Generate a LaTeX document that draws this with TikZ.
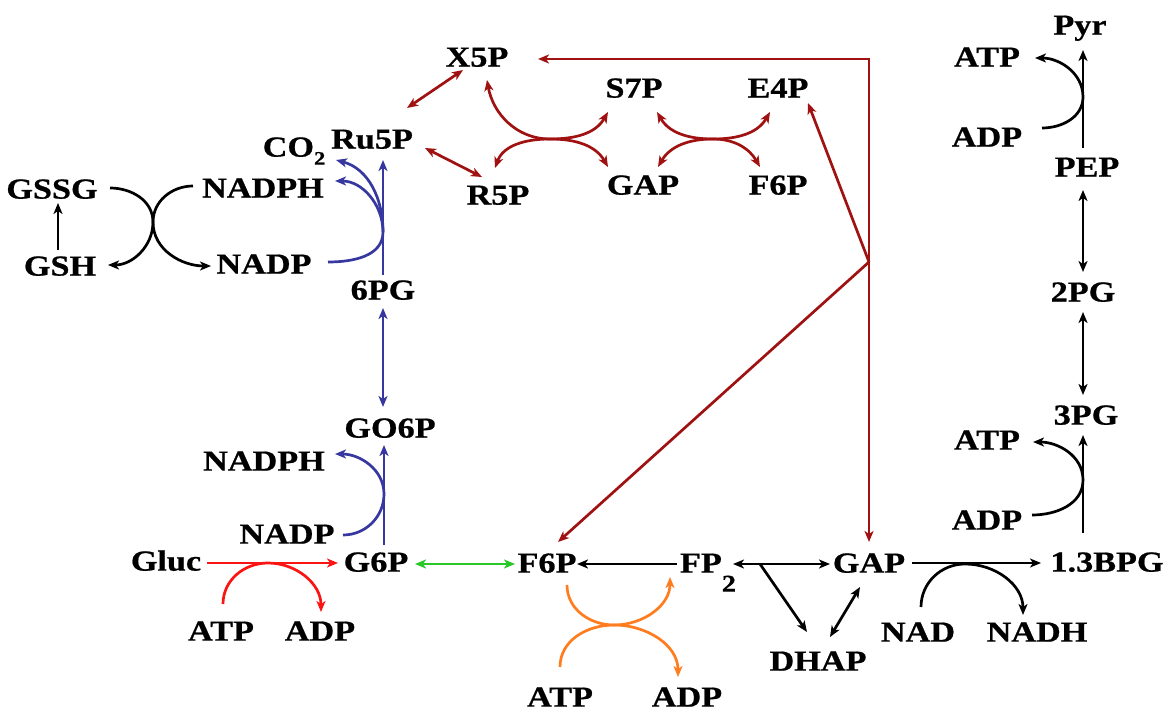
\documentclass[tikz,border=0pt]{standalone}
\usepackage{fontspec}
\setmainfont{Liberation Serif}[FakeStretch=1.18, BoldFeatures={FakeBold=0.7}]
\usetikzlibrary{arrows.meta,calc}
\definecolor{pppred}{RGB}{160,18,18}
\definecolor{oxblue}{RGB}{55,55,160}
\definecolor{hkred}{RGB}{250,20,20}
\definecolor{isogreen}{RGB}{40,200,40}
\definecolor{pfkorange}{RGB}{255,125,30}
\newcommand\smallsub[1]{\raisebox{-4pt}{\fontsize{9.5}{10}\selectfont #1}}
\newcommand\bigsub[1]{\raisebox{-9.5pt}{\fontsize{12}{12}\selectfont #1}}
\begin{document}
\begin{tikzpicture}[x=0.5pt,y=-0.5pt,
  >={Stealth[length=5.5pt,width=4.5pt,inset=1.5pt]},
  lbl/.style={font=\fontsize{14.5}{17}\selectfont\bfseries, inner sep=2pt,
              text height=9.6pt, text depth=0pt},
  conn/.style={line width=1.35pt, line join=miter},
  blk/.style={conn, black},
  blu/.style={conn, oxblue},
  hk/.style={conn, hkred},
  grn/.style={conn, isogreen},
  org/.style={conn, pfkorange},
  ppp/.style={conn, pppred}]
\useasboundingbox (0,0) rectangle (1172,711);

% ---- metabolites ----
\node[lbl] (gssg)   at (52,189)   {GSSG};
\node[lbl] (gsh)    at (60,266)   {GSH};
\node[lbl] (nadpha) at (263,188)  {NADPH};
\node[lbl] (nadpa)  at (264,264)  {NADP};
\node[lbl] (co2)    at (294,147)  {CO\smallsub{2}};
\node[lbl] (ru5p)   at (372,139)  {Ru5P};
\node[lbl] (pg6)    at (383,290)  {6PG};
\node[lbl] (go6p)   at (390,428)  {GO6P};
\node[lbl] (nadphb) at (264,461)  {NADPH};
\node[lbl] (nadpb)  at (287,534)  {NADP};
\node[lbl] (gluc)   at (166,561)  {Gluc};
\node[lbl] (g6p)    at (376,562)  {G6P};
\node[lbl] (atpa)   at (221,631)  {ATP};
\node[lbl] (adpa)   at (320,631)  {ADP};
\node[lbl] (f6pb)   at (547,563)  {F6P};
\node[lbl] (fp2)    at (708,563)  {FP\bigsub{2}};
\node[lbl] (gapb)   at (869,563)  {GAP};
\node[lbl] (dhap)   at (818,661)  {DHAP};
\node[lbl] (nad)    at (918,632)  {NAD};
\node[lbl] (nadh)   at (1037,632) {NADH};
\node[lbl] (bpg)    at (1107,562) {1.3BPG};
\node[lbl] (atpb)   at (560,697)  {ATP};
\node[lbl] (adpb)   at (687,697)  {ADP};
\node[lbl] (atpc)   at (987,440)  {ATP};
\node[lbl] (adpc)   at (987,520)  {ADP};
\node[lbl] (pg3)    at (1086,415) {3PG};
\node[lbl] (pg2)    at (1083,292) {2PG};
\node[lbl] (pep)    at (1087,167) {PEP};
\node[lbl] (atpd)   at (987,57)   {ATP};
\node[lbl] (adpd)   at (987,137)  {ADP};
\node[lbl] (pyr)    at (1080,25)  {Pyr};
\node[lbl] (x5p)    at (477,57)   {X5P};
\node[lbl] (s7p)    at (634,88)   {S7P};
\node[lbl] (e4p)    at (778,88)   {E4P};
\node[lbl] (r5p)    at (498,195)  {R5P};
\node[lbl] (gapt)   at (643,185)  {GAP};
\node[lbl] (f6pt)   at (778,185)  {F6P};

% ---- contact points of the coupled reactions ----
\coordinate (kg)  at (153,222);
\coordinate (kb1) at (383,232);
\coordinate (kb2) at (384,494);
\coordinate (kr)  at (268,563);
\coordinate (ko)  at (614,625);
\coordinate (kf)  at (760,564);
\coordinate (kn)  at (965,564);
\coordinate (ka)  at (1083,480);
\coordinate (kt)  at (1083,97);
\coordinate (kx1) at (550,139);
\coordinate (kx2) at (713,139);
\coordinate (corner) at (869,59);
\coordinate (jn)  at (869,262);

% ---- glutathione cycle ----
\draw[blk,->] ($(gsh)+(-2,-16)$) -- ($(gssg)+(6,14)$);
\draw[blk,->] ($(gssg)+(58,-1)$) to[out=0,in=90] (kg) to[out=-90,in=180] ($(nadpa)+(-53,2)$);
\draw[blk,->] ($(nadpha)+(-70,-2)$) to[out=180,in=90] (kg) to[out=-90,in=0] ($(gsh)+(48,-1)$);

% ---- oxidative pentose phosphate branch ----
\draw[blu,->] ($(pg6)+(0,-15)$) -- ($(ru5p)+(11,21)$);
\draw[blu] ($(nadpa)+(64,-2)$) to[out=0,in=-90] (kb1);
\draw[blu,->] (kb1) to[out=90,in=0] ($(nadpha)+(72,-7)$);
\draw[blu,->] (kb1) to[out=90,in=-15] ($(co2)+(42,13)$);
\draw[blu,<->] ($(pg6)+(0,18)$) -- ($(go6p)+(-7,-21)$);
\draw[blu,->] ($(g6p)+(8,-17)$) -- ($(go6p)+(-6,17)$);
\draw[blu] ($(nadpb)+(56,1)$) to[out=0,in=-90] (kb2);
\draw[blu,->] (kb2) to[out=90,in=0] ($(nadphb)+(71,-7)$);

% ---- hexokinase and isomerase ----
\draw[hk,->] ($(gluc)+(41,2)$) -- ($(g6p)+(-38,1)$);
\draw[hk,->] ($(atpa)+(2,-27)$) to[out=90,in=180] (kr) to[out=0,in=90] ($(adpa)+(1,-19)$);
\draw[grn,<->] ($(g6p)+(39,2)$) -- ($(f6pb)+(-32,1)$);

% ---- upper glycolysis ----
\draw[blk,->] ($(fp2)+(-31,1)$) -- ($(f6pb)+(30,1)$);
\draw[org,->] ($(f6pb)+(20,22)$) to[out=-90,in=180] (ko) to[out=0,in=-90] ($(fp2)+(-38,14)$);
\draw[org,->] ($(atpb)+(0,-30)$) to[out=90,in=180] (ko) to[out=0,in=90] ($(adpb)+(-9,-20)$);
\draw[blk,<->] ($(fp2)+(25,1)$) -- ($(gapb)+(-39,1)$);
\draw[blk,->] (kf) -- ($(dhap)+(-11,-29)$);
\draw[blk,<->] ($(gapb)+(-9,24)$) -- ($(dhap)+(12,-24)$);

% ---- lower glycolysis ----
\draw[blk,->] ($(gapb)+(43,0)$) -- ($(bpg)+(-66,1)$);
\draw[blk,->] ($(nad)+(3,-25)$) to[out=90,in=180] (kn) to[out=0,in=90] ($(nadh)+(-14,-17)$);
\draw[blk,->] ($(bpg)+(-24,-29)$) -- ($(pg3)+(-3,20)$);
\draw[blk] ($(adpc)+(45,-5)$) to[out=0,in=-90] (ka);
\draw[blk,->] (ka) to[out=90,in=0] ($(atpc)+(46,2)$);
\draw[blk,<->] ($(pg3)+(-3,-20)$) -- ($(pg2)+(0,20)$);
\draw[blk,<->] ($(pg2)+(0,-20)$) -- ($(pep)+(-4,23)$);
\draw[blk,->] ($(pep)+(-4,-19)$) -- ($(pyr)+(3,25)$);
\draw[blk] ($(adpd)+(55,-9)$) to[out=0,in=-90] (kt);
\draw[blk,->] (kt) to[out=90,in=0] ($(atpd)+(48,1)$);

% ---- non-oxidative pentose phosphate branch ----
\draw[ppp,<->] ($(x5p)+(-14,13)$) -- ($(ru5p)+(35,-31)$);
\draw[ppp,<->] ($(ru5p)+(53,9)$) -- ($(r5p)+(-16,-18)$);
\draw[ppp,<->] ($(x5p)+(10,23)$) to[out=-80,in=180] (kx1) to[out=0,in=-120] ($(s7p)+(-26,24)$);
\draw[ppp,<->] ($(r5p)+(-3,-27)$) to[out=70,in=180] (kx1) to[out=0,in=120] ($(gapt)+(-35,-18)$);
\draw[ppp,<->] ($(s7p)+(23,24)$) to[out=-60,in=180] (kx2) to[out=0,in=-120] ($(e4p)+(-8,24)$);
\draw[ppp,<->] ($(gapt)+(15,-18)$) to[out=60,in=180] (kx2) to[out=0,in=120] ($(f6pt)+(-18,-18)$);
\draw[ppp,<->] ($(gapb)+(0,-21)$) -- (corner) -- ($(x5p)+(61,2)$);
\draw[ppp,->] (jn) -- ($(e4p)+(30,15)$);
\draw[ppp,->] (jn) -- ($(f6pb)+(11,-21)$);
\end{tikzpicture}
\end{document}
